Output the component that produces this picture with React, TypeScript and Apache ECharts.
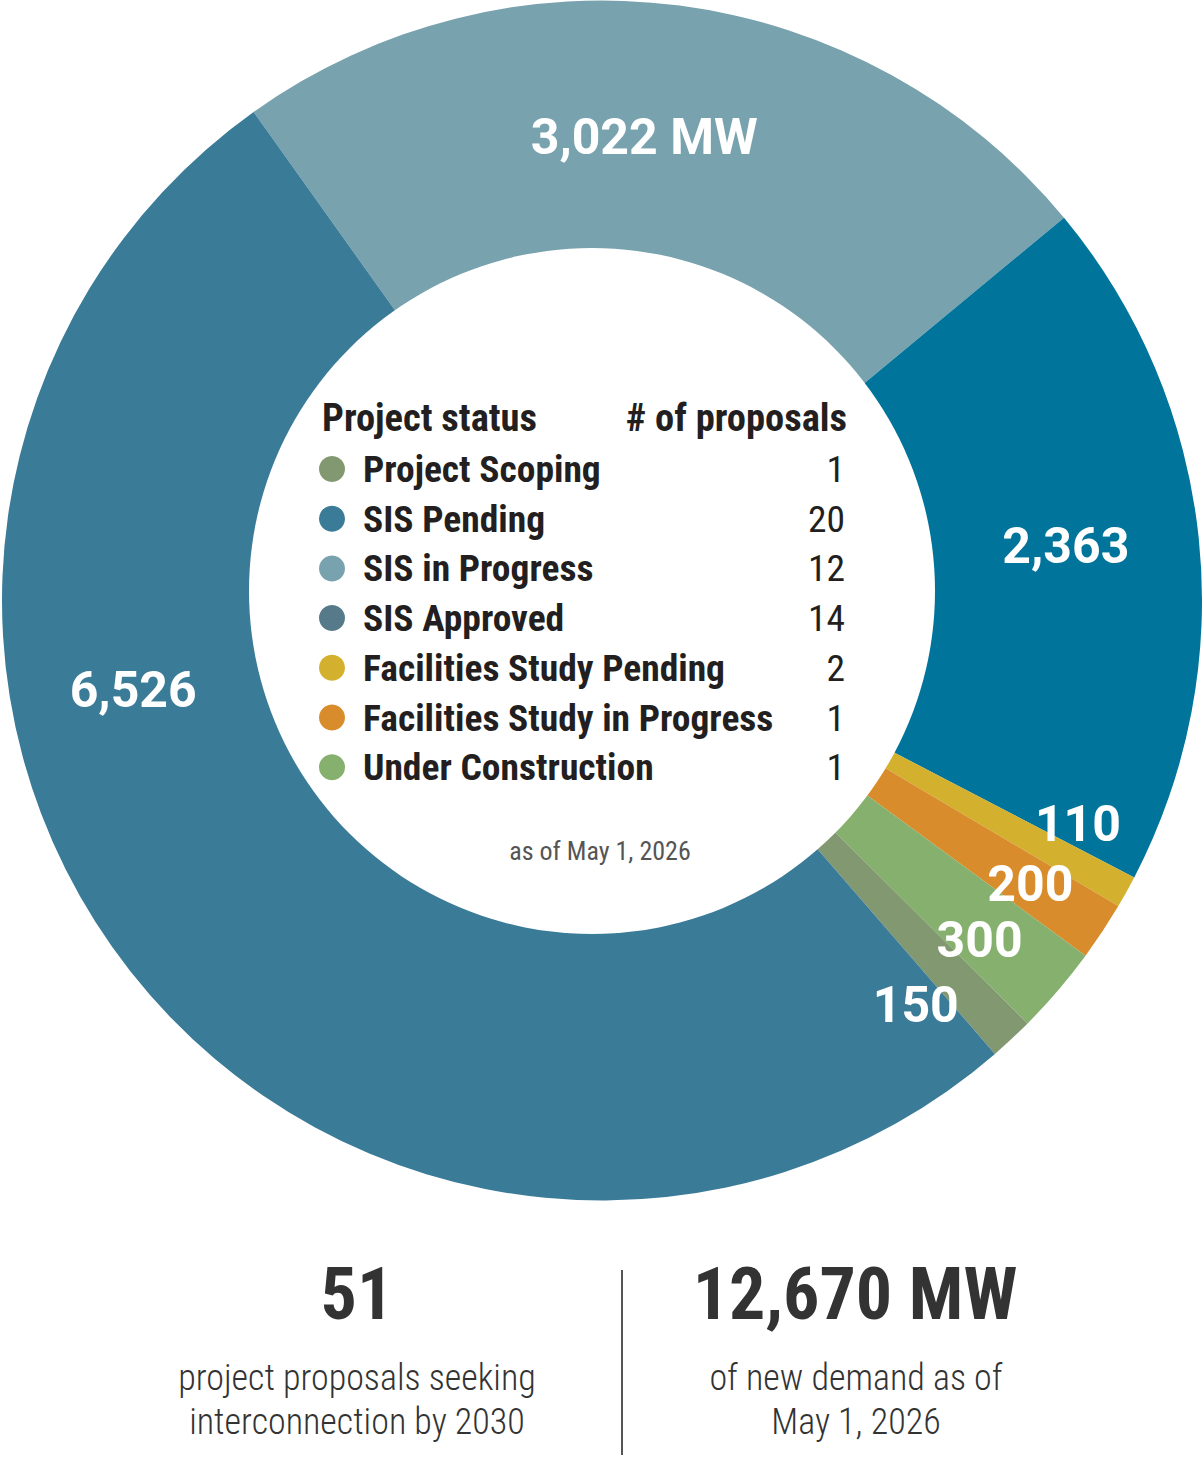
import React, { useEffect, useRef } from 'react';
import * as echarts from 'echarts';

// ---- data ----
const statuses = [
  'Project Scoping',
  'SIS Pending',
  'SIS in Progress',
  'SIS Approved',
  'Facilities Study Pending',
  'Facilities Study in Progress',
  'Under Construction',
];
const proposals = [1, 20, 12, 14, 2, 1, 1];
const megawatts = [150, 6526, 3022, 2363, 110, 200, 300];
const totalMW = 12670;
const asOfDate = 'May 1, 2026';
const targetYear = 2030;

// order of slices clockwise from the start angle (indexes into statuses)
const sliceOrder = [2, 3, 4, 5, 6, 0, 1];

// ---- styles ----
const sliceColors = ['#829871', '#3a7b98', '#78a2ae', '#00749a', '#d3b02d', '#d98c2b', '#86b06e'];
const legendColors = ['#829871', '#3a7b98', '#78a2ae', '#567a8a', '#d3b02d', '#d98c2b', '#86b06e'];
const labelOffsets: number[][] = [
  [-4, 64],
  [-103, -198],
  [-18, -2],
  [1, -5],
  [69, -3],
  [40, 27],
  [24, 37],
];
const COND = "'Roboto Condensed', 'Liberation Sans Narrow', 'DejaVu Sans Condensed', sans-serif";
const BODY = "Roboto, 'Noto Sans', sans-serif";

const fmt = (v: number) => v.toLocaleString('en-US');

export default function App() {
  const ref = useRef<HTMLDivElement>(null);

  useEffect(() => {
    document.body.style.margin = '0';
    const chart = echarts.init(ref.current!, null, { renderer: 'svg' });

    const totalProposals = proposals.reduce((a, b) => a + b, 0);

    const pieData = sliceOrder.map((i) => ({
      name: statuses[i],
      value: megawatts[i],
      itemStyle: { color: sliceColors[i] },
      label: { offset: labelOffsets[i] },
    }));

    const txt = (
      text: string,
      x: number,
      y: number,
      size: number,
      weight: any,
      fill: string,
      align: string,
      family = COND
    ) => ({
      type: 'text',
      x,
      y,
      z: 10,
      silent: true,
      style: {
        text,
        fontSize: size,
        fontWeight: weight,
        fontFamily: family,
        fill,
        align,
        verticalAlign: 'middle',
        textAlign: align,
        textVerticalAlign: 'middle',
      },
    });

    chart.setOption({
      animation: false,
      backgroundColor: '#ffffff',
      series: [
        {
          type: 'pie',
          center: [602, 600.5],
          radius: [325, 600],
          startAngle: 125.5,
          clockwise: true,
          avoidLabelOverlap: false,
          silent: true,
          z: 2,
          label: {
            show: true,
            position: 'inside',
            color: '#ffffff',
            fontFamily: BODY,
            fontWeight: 'bold',
            fontSize: 50,
            formatter: (p: any) =>
              p.name === 'SIS in Progress' ? `${fmt(p.value)} MW` : fmt(p.value),
          },
          labelLine: { show: false },
          emphasis: { disabled: true },
          data: pieData,
        },
      ],
      legend: {
        orient: 'vertical',
        left: 319,
        top: 449,
        padding: 0,
        itemWidth: 26,
        itemHeight: 26,
        itemGap: 9.7,
        selectedMode: false,
        icon: 'circle',
        z: 12,
        data: statuses.map((s, i) => ({
          name: s,
          icon: 'circle',
          itemStyle: { color: legendColors[i] },
        })),
        formatter: (name: string) =>
          `{n|${name}}{c|${proposals[statuses.indexOf(name)]}}`,
        textStyle: {
          fontSize: 37.5,
          lineHeight: 40,
          fontFamily: COND,
          rich: {
            n: {
              fontFamily: COND,
              fontWeight: 'bold',
              fontSize: 37.5,
              lineHeight: 40,
              color: '#231f20',
              width: 420,
              padding: [0, 0, 0, 13],
            },
            c: {
              fontFamily: COND,
              fontWeight: 'normal',
              fontSize: 37.5,
              lineHeight: 40,
              color: '#231f20',
              width: 62,
              align: 'right',
            },
          },
        },
      },
      graphic: [
        {
          type: 'circle',
          z: 5,
          silent: true,
          shape: { cx: 592, cy: 591, r: 343 },
          style: { fill: '#ffffff' },
        },
        txt('Project status', 322, 417, 38.5, 'bold', '#231f20', 'left'),
        txt('# of proposals', 847, 417, 38.5, 'bold', '#231f20', 'right'),
        txt(`as of ${asOfDate}`, 600, 851, 26, 'normal', '#555555', 'center'),
        txt(String(totalProposals), 357, 1294, 72, 'bold', '#333333', 'center'),
        txt(`${fmt(totalMW)} MW`, 855, 1294, 72, 'bold', '#333333', 'center'),
        txt('project proposals seeking', 357, 1378, 36, 300, '#333333', 'center'),
        txt(`interconnection by ${targetYear}`, 357, 1422, 36, 300, '#333333', 'center'),
        txt('of new demand as of', 856, 1378, 36, 300, '#333333', 'center'),
        txt(asOfDate, 856, 1422, 36, 300, '#333333', 'center'),
        {
          type: 'line',
          z: 10,
          silent: true,
          shape: { x1: 622, y1: 1270, x2: 622, y2: 1455 },
          style: { stroke: '#555555', lineWidth: 2 },
        },
      ],
    });

    return () => chart.dispose();
  }, []);

  return <div ref={ref} style={{ width: 1204, height: 1475 }} />;
}
